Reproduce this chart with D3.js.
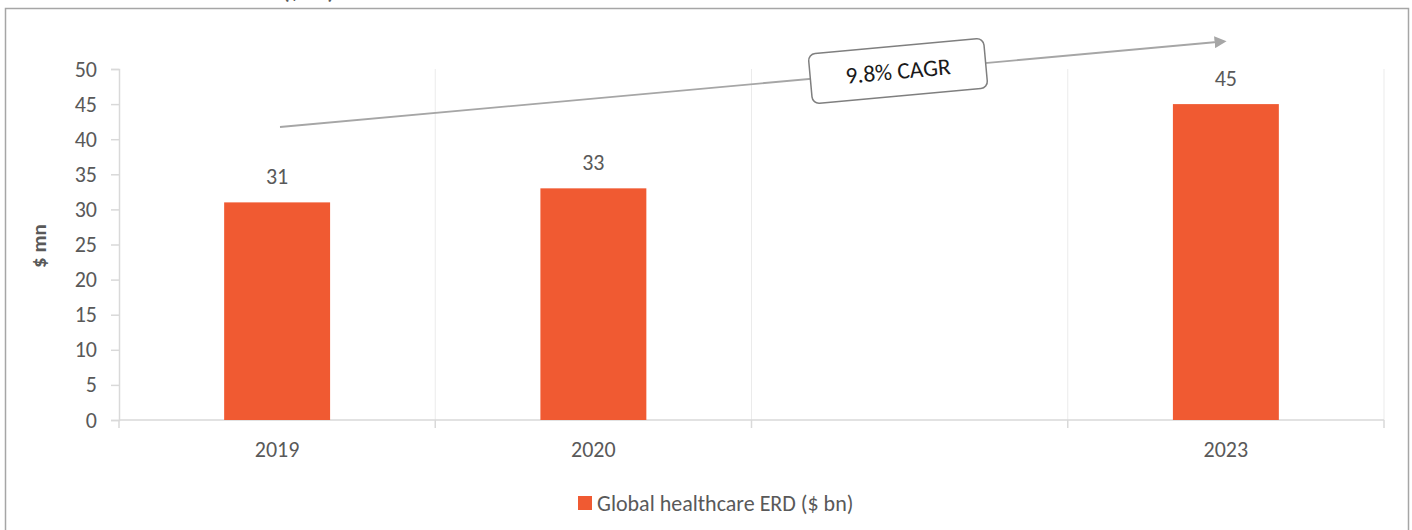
<!DOCTYPE html>
<html>
<head>
<meta charset="utf-8">
<script src="https://cdn.jsdelivr.net/npm/d3@7"></script>
<style>
  html, body { margin: 0; padding: 0; background: #fff; }
  svg { display: block; }
  text { font-family: Carlito, "Open Sans", sans-serif; fill: #595959; }
</style>
</head>
<body>
<svg id="chart" width="1412" height="530"></svg>
<script>
// Chart data
const categories = ["2019", "2020", "", "2023"];
const values = [31, 33, null, 45];
const yTicks = [0, 5, 10, 15, 20, 25, 30, 35, 40, 45, 50];
const seriesName = "Global healthcare ERD ($ bn)";
const yTitle = "$ mn";
const cagrLabel = "9.8% CAGR";

const svg = d3.select("#chart");
const plot = { left: 119, right: 1384, top: 69, bottom: 420 };
const barColor = "#f05a32";
const FONT = "Carlito, 'Open Sans', sans-serif";
const FS = "22px";

// Outer frame
svg.append("rect")
  .attr("x", 5.5).attr("y", 8.5)
  .attr("width", 1403).attr("height", 530)
  .attr("fill", "#fff").attr("stroke", "#a6a6a6").attr("stroke-width", 1.5);

// Heading line sitting above the frame
svg.append("text")
  .attr("x", 334).attr("y", -1)
  .attr("text-anchor", "end")
  .style("font-size", "21px").style("font-weight", "bold")
  .text("($ bn)");

const x = d3.scaleBand().domain(categories.map((c, i) => i))
  .range([plot.left, plot.right]).paddingInner(0).paddingOuter(0);
const y = d3.scaleLinear().domain([0, 50]).range([plot.bottom, plot.top]);

// Vertical category separators
const bounds = d3.range(1, categories.length + 1).map(i => plot.left + i * x.bandwidth());
svg.append("g").selectAll("line").data(bounds).join("line")
  .attr("x1", d => d).attr("x2", d => d)
  .attr("y1", plot.top).attr("y2", plot.bottom)
  .attr("stroke", "#ebebeb").attr("stroke-width", 1);

// Y axis
const yAxis = svg.append("g").attr("transform", `translate(${plot.left},0)`)
  .call(d3.axisLeft(y).tickValues(yTicks).tickSize(8).tickPadding(14));
yAxis.select(".domain").attr("stroke", "#d9d9d9").attr("stroke-width", 1.5);
yAxis.selectAll(".tick line").attr("stroke", "#d9d9d9").attr("stroke-width", 1.5);
yAxis.selectAll(".tick text")
  .style("font-size", FS).attr("fill", "#595959")
  .style("font-family", FONT);

// X axis
const xAxisG = svg.append("g").attr("transform", `translate(0,${plot.bottom})`);
xAxisG.append("line")
  .attr("x1", plot.left).attr("x2", plot.right)
  .attr("stroke", "#d9d9d9").attr("stroke-width", 1.5);
xAxisG.selectAll("line.tk").data([plot.left, ...bounds]).join("line")
  .attr("class", "tk")
  .attr("x1", d => d).attr("x2", d => d)
  .attr("y1", 0).attr("y2", 8)
  .attr("stroke", "#d9d9d9").attr("stroke-width", 1.5);
xAxisG.selectAll("text").data(categories).join("text")
  .attr("x", (d, i) => x(i) + x.bandwidth() / 2)
  .attr("y", 37)
  .attr("text-anchor", "middle")
  .style("font-size", FS)
  .text(d => d);

// Bars
const barW = x.bandwidth() * 0.335;
const barData = values.map((v, i) => ({ i, v })).filter(d => d.v != null);
svg.append("g").selectAll("rect").data(barData).join("rect")
  .attr("x", d => x(d.i) + (x.bandwidth() - barW) / 2)
  .attr("y", d => y(d.v))
  .attr("width", barW)
  .attr("height", d => y(0) - y(d.v))
  .attr("fill", barColor);

// Value labels
svg.append("g").selectAll("text").data(barData).join("text")
  .attr("x", d => x(d.i) + x.bandwidth() / 2)
  .attr("y", d => y(d.v) - 18)
  .attr("text-anchor", "middle")
  .style("font-size", FS)
  .text(d => d.v);

// Y axis title
svg.append("text")
  .attr("transform", "translate(46,246) rotate(-90)")
  .attr("text-anchor", "middle")
  .style("font-size", "21px").style("font-weight", "bold")
  .text(yTitle);

// Growth arrow
const defs = svg.append("defs");
defs.append("marker")
  .attr("id", "arrowHead")
  .attr("viewBox", "0 0 10 10")
  .attr("refX", 2).attr("refY", 5)
  .attr("markerWidth", 12).attr("markerHeight", 12)
  .attr("markerUnits", "userSpaceOnUse")
  .attr("orient", "auto")
  .append("path").attr("d", "M0,0 L10,5 L0,10 Z").attr("fill", "#a6a6a6");

const a0 = [280, 127], a1 = [1217, 42];
svg.append("line")
  .attr("x1", a0[0]).attr("y1", a0[1])
  .attr("x2", a1[0]).attr("y2", a1[1])
  .attr("stroke", "#a6a6a6").attr("stroke-width", 1.8)
  .attr("marker-end", "url(#arrowHead)");

// CAGR callout box
const angle = Math.atan2(a1[1] - a0[1], a1[0] - a0[0]) * 180 / Math.PI;
const box = svg.append("g").attr("transform", `translate(898,71) rotate(${angle})`);
box.append("rect")
  .attr("x", -88).attr("y", -25)
  .attr("width", 176).attr("height", 50)
  .attr("rx", 7).attr("ry", 7)
  .attr("fill", "#fff").attr("stroke", "#7f7f7f").attr("stroke-width", 1.5);
box.append("text")
  .attr("x", 0).attr("y", 8)
  .attr("text-anchor", "middle")
  .style("font-size", "23.5px")
  .style("fill", "#1a1a1a")
  .text(cagrLabel);

// Legend
const lg = svg.append("g").attr("transform", "translate(578,496)");
lg.append("rect").attr("width", 14).attr("height", 14).attr("fill", barColor);
lg.append("text").attr("x", 19).attr("y", 14.5)
  .style("font-size", FS)
  .text(seriesName);
</script>
</body>
</html>
